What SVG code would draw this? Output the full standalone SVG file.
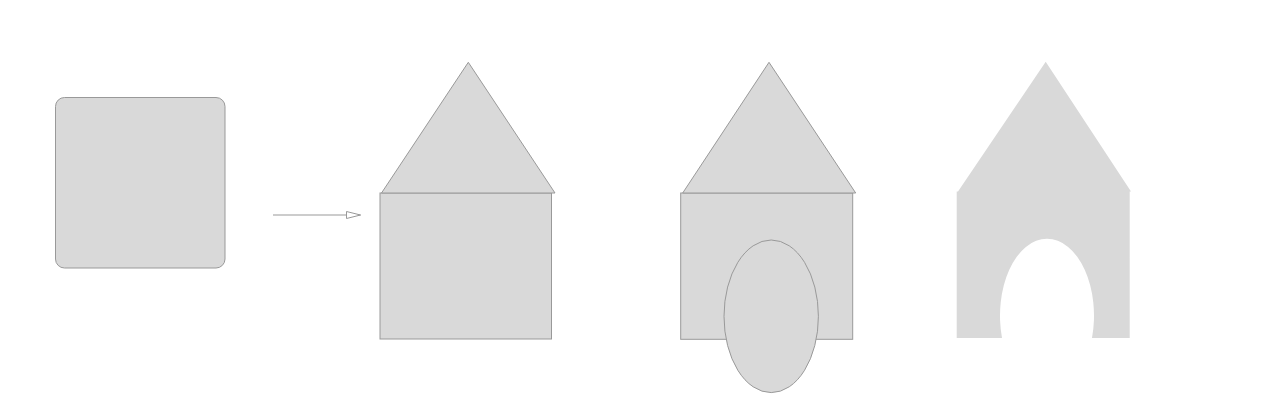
<svg xmlns="http://www.w3.org/2000/svg" width="1286" height="414" viewBox="0 0 1286 414">
<style>
.s{fill:#d9d9d9;stroke:#999999;stroke-width:1}
.f{fill:#d9d9d9;stroke:none}
.c{fill:none;stroke:#999999;stroke-width:1}
</style>
<defs>
<marker id="ah" markerWidth="16" markerHeight="10" refX="15" refY="5" orient="auto" markerUnits="userSpaceOnUse">
<path d="M1,1.5 L15,5 L1,8.5 Z" fill="#ffffff" stroke="#999999" stroke-width="1"/>
</marker>
</defs>
<rect width="1286" height="414" fill="#ffffff"/>
<g id="square">
<rect class="s" x="55.5" y="97.5" width="169.5" height="170.5" rx="9" ry="9"/>
</g>
<g id="house1">
<rect class="s" x="380" y="193" width="171.5" height="146"/>
<polygon class="s" points="468.3,62.3 555,193 381.5,193"/>
</g>
<g id="house2">
<rect class="s" x="680.7" y="193" width="172" height="146.3"/>
<polygon class="s" points="769,62.3 855.7,193 682.7,193"/>
<ellipse class="s" cx="771.2" cy="316.3" rx="47.2" ry="76.3"/>
</g>
<g id="house3">
<path class="f" d="M956.7,338 L956.7,191.5 L958,191.5 L1045.7,61.7 L1131,191.5 L1129.7,191.5 L1129.7,338 L1092,338 A47,77 0 1 0 1002,338 Z"/>
</g>
<g id="connectors">
<line class="c" x1="273" y1="215" x2="360.5" y2="215" marker-end="url(#ah)"/>
</g>
</svg>
